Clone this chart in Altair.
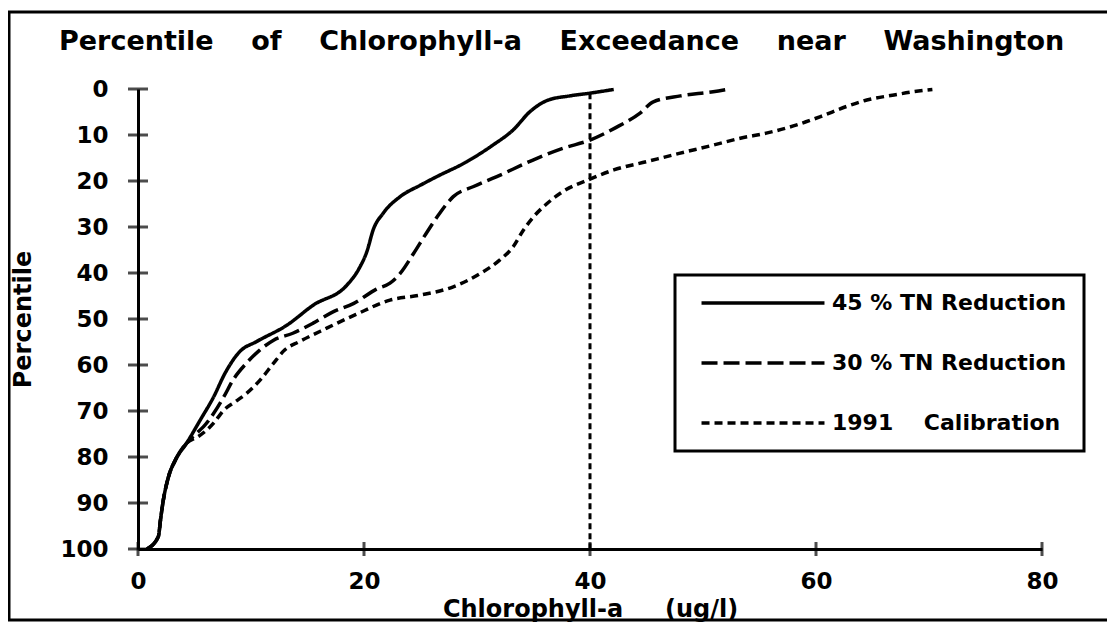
import altair as alt
import pandas as pd

# ---- data ----
series_names = ["45 % TN Reduction", "30 % TN Reduction", "1991\u00a0\u00a0\u00a0\u00a0Calibration"]

chl_45 = [0.8, 1.8, 2.0, 2.2, 2.7, 3.3, 4.3, 5.5, 6.7, 7.7, 9.0, 10.5, 13.2, 15.5, 18.5, 19.5,
          20.3, 20.8, 21.7, 23.2, 25.0, 26.4, 29.1, 31.4, 33.2, 34.7, 36.2, 38.2, 40.0, 42.1]
pct_45 = [100, 97.3, 93.5, 90, 84.3, 80.7, 77, 72, 66.9, 61.8, 57.1, 54.9, 51.3, 47, 42.6, 39.3,
          35, 30.7, 27, 23.4, 20.9, 19.1, 15.8, 12.2, 8.9, 4.9, 2.5, 1.5, 0.9, 0.1]

chl_30 = [0.8, 1.8, 2.0, 2.2, 2.7, 3.3, 4.3, 5.2, 5.8, 6.7, 7.6, 8.4, 9.6, 10.8, 12.0, 13.7, 15.5,
          17.3, 19.1, 21.1, 22.3, 23.2, 24.4, 25.5, 26.7, 27.9, 29.7, 31.7, 35.0, 37.6, 40.0, 42.2,
          44.4, 45.6, 48.0, 50.9, 52.1]
pct_30 = [100, 97.3, 93.5, 90, 84.3, 80.7, 77, 74.8, 73.4, 70.5, 66.9, 63.3, 59.6, 56.7, 54.6, 53.1,
          50.9, 48.4, 46.6, 43.5, 42.2, 40.1, 35.7, 31.4, 27, 23.4, 21.2, 19.1, 15.4, 12.9, 11.1, 8.5,
          5.3, 2.8, 1.5, 0.6, 0.1]

chl_91 = [0.8, 1.8, 2.0, 2.2, 2.7, 3.3, 4.3, 5.3, 6.1, 6.8, 7.6, 8.6, 9.6, 10.8, 12.0, 13.0, 14.3,
          16.7, 19.3, 22.3, 25.0, 27.9, 30.3, 32.0, 33.2, 34.1, 35.0, 36.2, 37.6, 40.0, 42.1, 45.0,
          47.9, 50.9, 53.3, 55.6, 58.3, 60.4, 62.7, 64.5, 66.9, 68.6, 70.3]
pct_91 = [100, 97.3, 93.5, 90, 84.3, 80.7, 77, 75.6, 74.1, 72.3, 69.8, 68, 66.2, 63.3, 59.6, 56.7,
          54.9, 52, 49, 45.9, 44.8, 43, 40.1, 37.2, 34.3, 30.7, 27.8, 24.9, 22.3, 19.6, 17.6, 15.8,
          14, 12.2, 10.7, 9.6, 7.8, 6, 3.8, 2.4, 1.3, 0.6, 0.1]

x_ticks = [0, 20, 40, 60, 80]
y_ticks = [0, 10, 20, 30, 40, 50, 60, 70, 80, 90, 100]
threshold_chl = [40]
threshold_top = [0.9]
threshold_bottom = [100]

title_text = "\u00a0\u00a0\u00a0\u00a0".join(["Percentile", "of", "Chlorophyll-a", "Exceedance", "near", "Washington"])
x_title = "Chlorophyll-a\u00a0\u00a0\u00a0\u00a0\u00a0(ug/l)"
y_title = "Percentile"

# ---- tables ----
rows = []
for name, xs, ps in zip(series_names, [chl_45, chl_30, chl_91], [pct_45, pct_30, pct_91]):
    for i, (xv, pv) in enumerate(zip(xs, ps)):
        rows.append({"series": name, "chl": xv, "pct": pv, "order": i})
df = pd.DataFrame(rows)

ytick_df = pd.DataFrame({"chl": [x_ticks[0]] * len(y_ticks), "pct": y_ticks})
xtick_df = pd.DataFrame({"chl": x_ticks, "pct": [y_ticks[-1]] * len(x_ticks)})
thr_df = pd.DataFrame({"chl": threshold_chl, "pct": threshold_top, "pct2": threshold_bottom})

FONT = "DejaVu Sans"
xscale = alt.Scale(domain=[0, 80], nice=False, zero=False)
yscale = alt.Scale(domain=[0, 100], reverse=True, nice=False, zero=False)

x_axis = alt.Axis(values=x_ticks, title=x_title, grid=False, ticks=False, domainWidth=3,
                  domainColor="black", labelFont=FONT, labelFontWeight="bold", labelFontSize=23,
                  labelColor="black", labelPadding=21, labelFlush=False, titleFont=FONT,
                  titleFontWeight="bold", titleFontSize=24, titleColor="black", titlePadding=4)
y_axis = alt.Axis(values=y_ticks, title=y_title, grid=False, ticks=False, domainWidth=3,
                  domainColor="black", labelFont=FONT, labelFontWeight="bold", labelFontSize=23,
                  labelColor="black", labelPadding=30, labelFlush=False, titleFont=FONT,
                  titleFontWeight="bold", titleFontSize=24, titleColor="black", titlePadding=24)

lines = alt.Chart(df).mark_line(color="black", strokeWidth=3.5, interpolate="monotone").encode(
    x=alt.X("chl:Q", scale=xscale, axis=x_axis),
    y=alt.Y("pct:Q", scale=yscale, axis=y_axis),
    strokeDash=alt.StrokeDash(
        "series:N",
        scale=alt.Scale(domain=series_names, range=[[1, 0], [16, 6], [8, 5]]),
        legend=alt.Legend(title=None, orient="none", legendX=537, legendY=186,
                          symbolType="M-12,0H12", symbolSize=105, symbolStrokeWidth=3.5,
                          symbolStrokeColor="black", symbolOffset=60, labelOffset=58,
                          labelFont=FONT, labelFontWeight="bold",
                          labelFontSize=22, labelColor="black", padding=17, rowPadding=38,
                          strokeColor="black", labelLimit=400),
    ),
    order="order:Q",
)

yticks = alt.Chart(ytick_df).mark_tick(orient="horizontal", size=20, thickness=3, color="black").encode(
    x=alt.X("chl:Q", scale=xscale), y=alt.Y("pct:Q", scale=yscale))
xticks = alt.Chart(xtick_df).mark_tick(orient="vertical", size=14, thickness=3, color="black").encode(
    x=alt.X("chl:Q", scale=xscale), y=alt.Y("pct:Q", scale=yscale))

thr = alt.Chart(thr_df).mark_rule(color="black", strokeWidth=3, strokeDash=[6, 4]).encode(
    x=alt.X("chl:Q", scale=xscale), y=alt.Y("pct:Q", scale=yscale), y2="pct2:Q")

frame = alt.Chart(pd.DataFrame({"a": [0]})).mark_rect(fillOpacity=0, stroke="black", strokeWidth=3).encode(
    x=alt.value(-129), x2=alt.value(1000), y=alt.value(-77), y2=alt.value(531))

chart = alt.layer(frame, thr, lines, yticks, xticks).properties(
    width=904, height=460,
    title=alt.TitleParams(title_text, font=FONT, fontWeight="bold", fontSize=27, color="black",
                          anchor="start", frame="group", dx=-79, dy=45, offset=0),
    autosize=alt.AutoSizeParams(type="none"),
    padding={"left": 130, "top": 81, "right": 65, "bottom": 73},
).configure_view(strokeWidth=0).configure_legend(strokeWidth=3)

chart.save("out.html", embed_options={"renderer": "svg", "actions": False})
